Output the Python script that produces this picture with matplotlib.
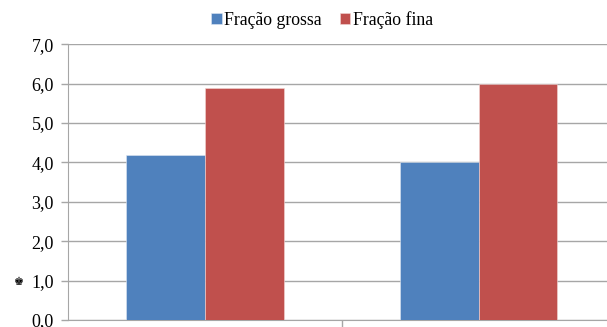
import numpy as np
import matplotlib.pyplot as plt
from matplotlib.ticker import FuncFormatter

plt.rcParams['font.family'] = ['Liberation Serif', 'DejaVu Serif']

categories = ['', '']
grossa = [4.2, 4.0]
fina = [5.9, 6.0]
series_names = ['Fração grossa', 'Fração fina']
colors = ['#4F81BD', '#C0504D']

fig = plt.figure(figsize=(6.07, 3.27), dpi=100)
# plot area runs past the right and bottom edges (cropped chart)
ax = fig.add_axes([67.7/607, 7/327, (615.5-67.7)/607, (320-44.3)/327])

x = np.arange(len(categories))
w = 0.288
ax.bar(x - w/2, grossa, w, color=colors[0], edgecolor='#dfe8f3', linewidth=0.4,
       label=series_names[0], zorder=3)
ax.bar(x + w/2, fina, w, color=colors[1], edgecolor='#f2d6d5', linewidth=0.4,
       label=series_names[1], zorder=3)

ax.set_xlim(-0.5, 1.5)
ax.set_ylim(0, 7)
ax.set_yticks(np.arange(0, 7.01, 1))
ax.yaxis.set_major_formatter(FuncFormatter(lambda v, p: f'{v:.1f}'.replace('.', ',')))
ax.set_xticks([0.5])
ax.set_xticklabels([''])
ax.grid(axis='y', color='#a6a6a6', linewidth=1.0, zorder=0)

for s in ['top', 'right']:
    ax.spines[s].set_visible(False)
for s in ['left', 'bottom']:
    ax.spines[s].set_color('#a6a6a6')
ax.tick_params(axis='both', colors='#a6a6a6', length=5, width=1, labelcolor='black',
               labelsize=13)
ax.tick_params(axis='y', pad=5)

# garbled axis-title glyph next to the 1,0 tick
fig.text(19/607, 1-282/327, '♚', family='DejaVu Sans', fontsize=8,
         ha='center', va='center', color='black')

fig.legend(loc='center', bbox_to_anchor=(322/607, 1-20/327), ncol=2, frameon=False,
           fontsize=12.8, handlelength=0.6, handleheight=0.6, handletextpad=0.15,
           columnspacing=1.0)

fig.savefig('out.png', dpi=100)
